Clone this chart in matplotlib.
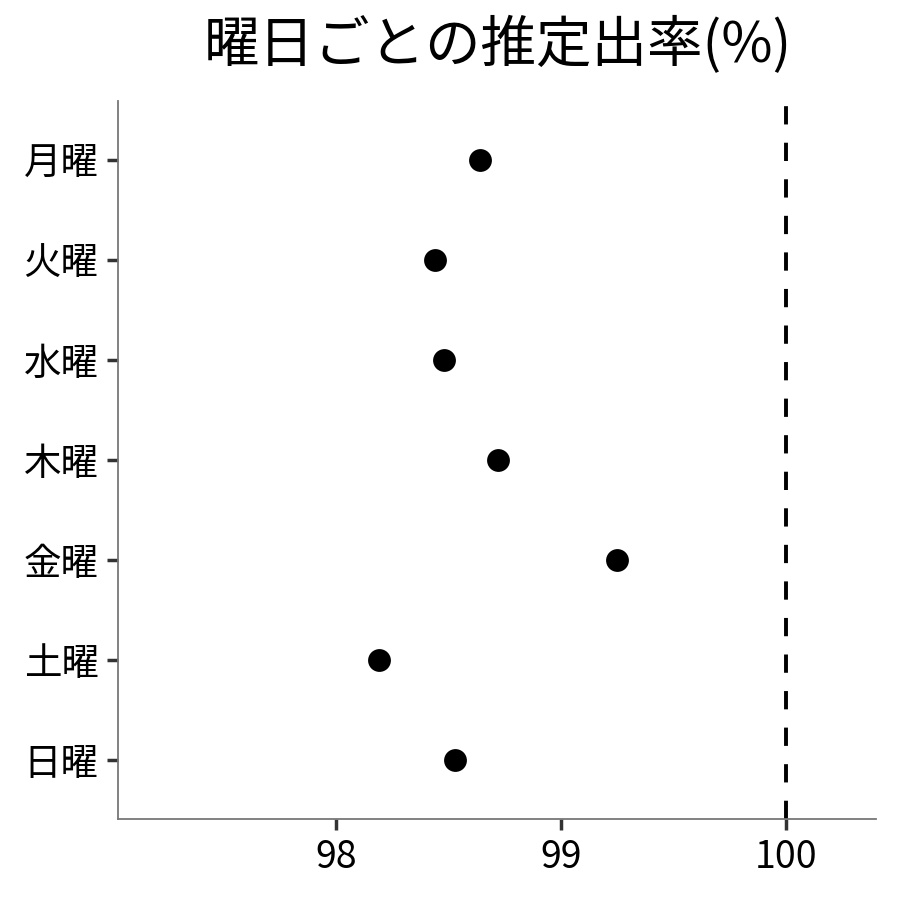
"""
Estimated attendance rate by weekday, dot plot.
"""
import matplotlib
matplotlib.use("Agg")
import matplotlib.pyplot as plt

plt.rcParams['font.family'] = ['Noto Sans CJK JP', 'DejaVu Sans']

# data
days = ['月曜', '火曜', '水曜', '木曜', '金曜', '土曜', '日曜']
rates = [98.64, 98.44, 98.48, 98.72, 99.25, 98.19, 98.53]
ref_line = 100
x_ticks = [98, 99, 100]

fig = plt.figure(figsize=(9, 9), dpi=100)
ax = fig.add_axes([0.1311, 0.09, 0.8422, 0.7978])

ypos = list(range(len(days)))
ax.scatter(rates, ypos, s=270, color='black', zorder=3, linewidths=0)
ax.axvline(ref_line, color='black', linewidth=2.8, linestyle=(0, (4.7, 4.7)), zorder=2)

ax.set_xlim(97.03, 100.4)
ax.set_ylim(len(days) - 1 + 0.59, -0.59)
ax.set_yticks(ypos)
ax.set_yticklabels(days)
ax.set_xticks(x_ticks)
ax.set_xticklabels([str(t) for t in x_ticks])

for side in ['top', 'right']:
    ax.spines[side].set_visible(False)
for side in ['left', 'bottom']:
    ax.spines[side].set_color('#777777')
    ax.spines[side].set_linewidth(1.3)

ax.tick_params(axis='both', labelsize=27, color='#333333', width=2.5, length=8, pad=6)

fig.suptitle('曜日ごとの推定出率(%)', fontsize=40, x=0.553, y=0.981, va='top')

plt.savefig('out.png', dpi=100)
